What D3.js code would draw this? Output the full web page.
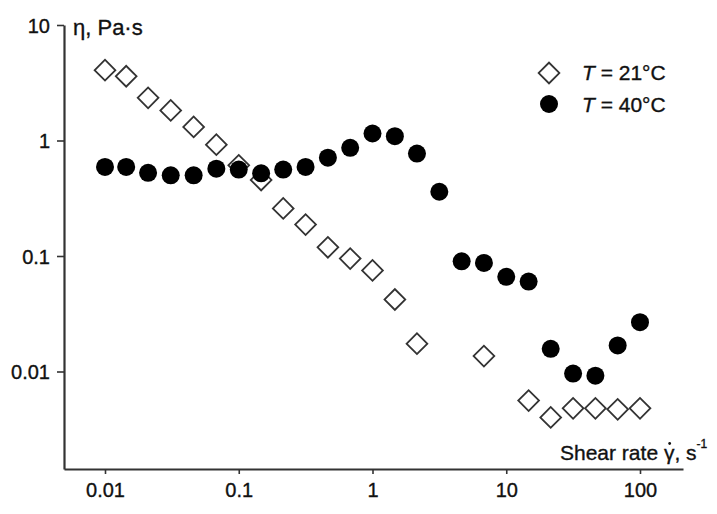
<!DOCTYPE html>
<html>
<head>
<meta charset="utf-8">
<script src="https://cdn.jsdelivr.net/npm/d3@7"></script>
<style>
  body { margin: 0; background: #fff; }
  text { font-family: "Liberation Sans", Arial, sans-serif; fill: #111; stroke: #111; stroke-width: 0.35px; }
</style>
</head>
<body>
<div id="plot"></div>
<script>
const PLOT_WIDTH = 717;
const PLOT_HEIGHT = 514;

// shear rate, 1/s
const shear21 = [0.01, 0.0144, 0.021, 0.031, 0.046, 0.068, 0.1, 0.147, 0.215, 0.316, 0.464, 0.681,
    1, 1.47, 2.15, 6.81, 14.7, 21.5, 31.6, 46.4, 68.1, 100];
// viscosity at 21 C, Pa.s
const eta21 = [4.06, 3.6, 2.34, 1.82, 1.31, 0.92, 0.61, 0.455, 0.258, 0.187, 0.119, 0.095,
    0.075, 0.042, 0.0174, 0.0136, 0.0056, 0.004, 0.0048, 0.0048, 0.0047, 0.0048];

const shear40 = [0.01, 0.0144, 0.021, 0.031, 0.046, 0.068, 0.1, 0.147, 0.215, 0.316, 0.464, 0.681,
    1, 1.47, 2.15, 3.16, 4.64, 6.81, 10, 14.7, 21.5, 31.6, 46.4, 68.1, 100];
const eta40 = [0.59, 0.59, 0.525, 0.5, 0.5, 0.57, 0.56, 0.52, 0.56, 0.59, 0.71, 0.865,
    1.15, 1.09, 0.77, 0.36, 0.09, 0.087, 0.066, 0.06, 0.0157, 0.0096, 0.0092, 0.0168, 0.0267];

const xTicks = [0.01, 0.1, 1, 10, 100];
const yTicks = [0.01, 0.1, 1, 10];
const legendLabels = ['21°C', '40°C'];

const AXIS_COLOR = '#333';

var svg = d3.select('#plot')
    .append('svg')
    .attr('width', PLOT_WIDTH)
    .attr('height', PLOT_HEIGHT);

// anchor the decades where they sit in the picture, then stretch to the axis ends
var x = d3.scaleLog().domain([0.01, 100]).range([105, 640]);
x.domain([x.invert(64), x.invert(683)]).range([64, 683]);

var y = d3.scaleLog().domain([0.01, 10]).range([371.5, 25]);
y.domain([y.invert(469), 10]).range([469, 25]);

var xAxis = svg.append('g')
    .attr('transform', 'translate(0,469)')
    .call(d3.axisBottom(x)
        .tickValues(xTicks)
        .tickFormat(d => String(d))
        .tickSize(5)
        .tickSizeOuter(0)
        .tickPadding(9));

var yAxis = svg.append('g')
    .attr('transform', 'translate(64,0)')
    .call(d3.axisLeft(y)
        .tickValues(yTicks)
        .tickFormat(d => String(d))
        .tickSize(7)
        .tickSizeOuter(0)
        .tickPadding(7));

svg.selectAll('.domain').attr('stroke', AXIS_COLOR).attr('stroke-width', 2.2);
svg.selectAll('.tick line').attr('stroke', AXIS_COLOR).attr('stroke-width', 1.6);
svg.selectAll('.tick text')
    .style('font-family', '"Liberation Sans", Arial, sans-serif')
    .style('font-size', '20px')
    .attr('fill', '#111');
yAxis.selectAll('.tick text').attr('dy', '0.36em');

// axis titles
svg.append('text')
    .attr('x', 73)
    .attr('y', 35)
    .style('font-size', '22px')
    .text('η, Pa·s');

var xTitle = svg.append('text')
    .attr('x', 560)
    .attr('y', 460)
    .style('font-size', '21px');
xTitle.append('tspan').text('Shear rate ');
var gamma = xTitle.append('tspan').text('γ');
xTitle.append('tspan').text(', s');
xTitle.append('tspan').attr('dy', -12).style('font-size', '12px').text('-1');

// dot over gamma
let node = xTitle.node();
let gStart = node.getStartPositionOfChar(11).x;
let gEnd = node.getEndPositionOfChar(11).x;
svg.append('circle')
    .attr('cx', (gStart + gEnd) / 2 + 0.5)
    .attr('cy', 443.5)
    .attr('r', 1.4)
    .attr('fill', '#111');

var diamond = d3.symbol().type(d3.symbolSquare).size(215);

// 21 C: open diamonds
svg.append('g')
    .selectAll('path')
    .data(shear21.map((s, i) => ({ s: s, eta: eta21[i] })))
    .enter()
    .append('path')
    .attr('d', diamond)
    .attr('transform', d => `translate(${x(d.s)},${y(d.eta)}) rotate(45)`)
    .attr('fill', 'none')
    .attr('stroke', AXIS_COLOR)
    .attr('stroke-width', 1.8);

// 40 C: filled circles
svg.append('g')
    .selectAll('circle')
    .data(shear40.map((s, i) => ({ s: s, eta: eta40[i] })))
    .enter()
    .append('circle')
    .attr('cx', d => x(d.s))
    .attr('cy', d => y(d.eta))
    .attr('r', 9)
    .attr('fill', '#000');

// legend
var legend = svg.append('g');
legend.append('path')
    .attr('d', diamond)
    .attr('transform', 'translate(549,73) rotate(45)')
    .attr('fill', 'none')
    .attr('stroke', AXIS_COLOR)
    .attr('stroke-width', 1.8);
legend.append('circle')
    .attr('cx', 549)
    .attr('cy', 104)
    .attr('r', 9)
    .attr('fill', '#000');

legendLabels.forEach((lab, i) => {
    let t = legend.append('text')
        .attr('x', 582)
        .attr('y', 80 + i * 32)
        .style('font-size', '21px');
    t.append('tspan').style('font-style', 'italic').text('T');
    t.append('tspan').text(' = ' + lab);
});
</script>
</body>
</html>
